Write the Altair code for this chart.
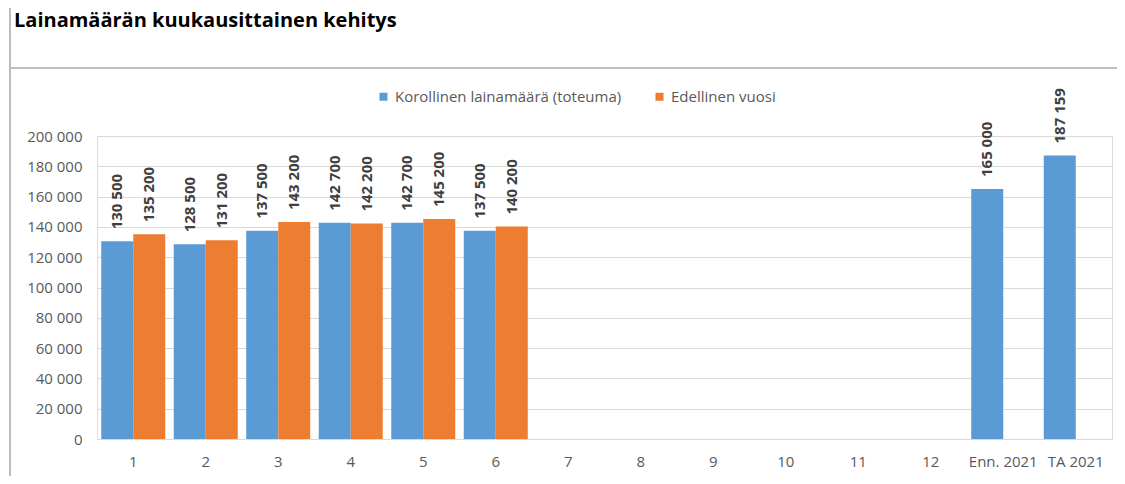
import altair as alt
import pandas as pd

categories = ["1", "2", "3", "4", "5", "6", "7", "8", "9", "10", "11", "12", "Enn. 2021", "TA 2021"]
series_names = ["Korollinen lainamäärä (toteuma)", "Edellinen vuosi"]
korollinen = [130500, 128500, 137500, 142700, 142700, 137500,
              None, None, None, None, None, None, 165000, 187159]
edellinen = [135200, 131200, 143200, 142200, 145200, 140200,
             None, None, None, None, None, None, None, None]
colors = ["#5B9BD5", "#ED7D31"]
y_ticks = [0, 20000, 40000, 60000, 80000, 100000, 120000, 140000, 160000, 180000, 200000]
title_text = "Lainamäärän kuukausittainen kehitys"

rows = []
for name, vals in zip(series_names, [korollinen, edellinen]):
    for c, v in zip(categories, vals):
        if v is not None:
            rows.append({"category": c, "series": name, "value": v})
df = pd.DataFrame(rows)

FONT = "Open Sans"
fmt = "replace(format(datum.value, ','), regexp(',', 'g'), ' ')"

x_enc = alt.X(
    "category:N",
    sort=categories,
    scale=alt.Scale(domain=categories, paddingInner=0.117, paddingOuter=0.0585),
    axis=alt.Axis(title=None, labelAngle=0, domain=False, ticks=False, tickSize=0,
                  labelPadding=15, labelFontSize=15, labelColor="#595959",
                  labelFont=FONT, grid=False),
)
y_enc = alt.Y(
    "value:Q",
    scale=alt.Scale(domain=[0, 200000], nice=False),
    axis=alt.Axis(title=None, values=y_ticks, labelExpr=fmt, domain=False, ticks=False,
                  tickSize=0, labelPadding=15, gridColor="#d9d9d9", gridWidth=1,
                  labelFontSize=15, labelColor="#595959", labelFont=FONT),
)
xoff = alt.XOffset("series:N", scale=alt.Scale(domain=series_names, paddingInner=0, paddingOuter=0))

base = alt.Chart(df)

bars = base.mark_bar().encode(
    x=x_enc,
    y=y_enc,
    xOffset=xoff,
    color=alt.Color(
        "series:N",
        scale=alt.Scale(domain=series_names, range=colors),
        legend=alt.Legend(title=None, orient="none", direction="horizontal", columns=2,
                          legendX=279, legendY=-47, padding=0, labelLimit=1000,
                          symbolType="square", symbolSize=64, symbolStrokeWidth=0,
                          labelFontSize=15, labelColor="#595959", labelFont=FONT,
                          labelOffset=4, columnPadding=30),
    ),
)

labels = base.transform_calculate(label=fmt).mark_text(
    angle=270, align="left", baseline="middle", dx=12,
    fontSize=15, fontWeight="bold", font=FONT, color="#404040",
).encode(
    x=x_enc,
    y=y_enc,
    xOffset=xoff,
    text="label:N",
)

one = alt.Data(values=[{"t": title_text}])

title = alt.Chart(one).mark_text(
    align="left", baseline="alphabetic", fontSize=20, fontWeight="bold", font=FONT, color="#000000"
).encode(x=alt.value(-83), y=alt.value(-109), text="t:N")

vline = alt.Chart(one).mark_rule(color="#a6a6a6", strokeWidth=1.5).encode(
    x=alt.value(-87), y=alt.value(-140), y2=alt.value(345)
)
hline = alt.Chart(one).mark_rule(color="#bfbfbf", strokeWidth=2).encode(
    x=alt.value(-87), x2=alt.value(1030), y=alt.value(-68)
)

chart = alt.layer(bars, labels, title, vline, hline).properties(
    width=1015,
    height=303,
    autosize=alt.AutoSizeParams(type="none"),
    padding={"left": 89, "top": 128, "right": 5, "bottom": 37},
).configure_view(strokeWidth=0, stroke="transparent").configure(background="white")

chart.save("out.html", embed_options={"renderer": "svg", "actions": False})
